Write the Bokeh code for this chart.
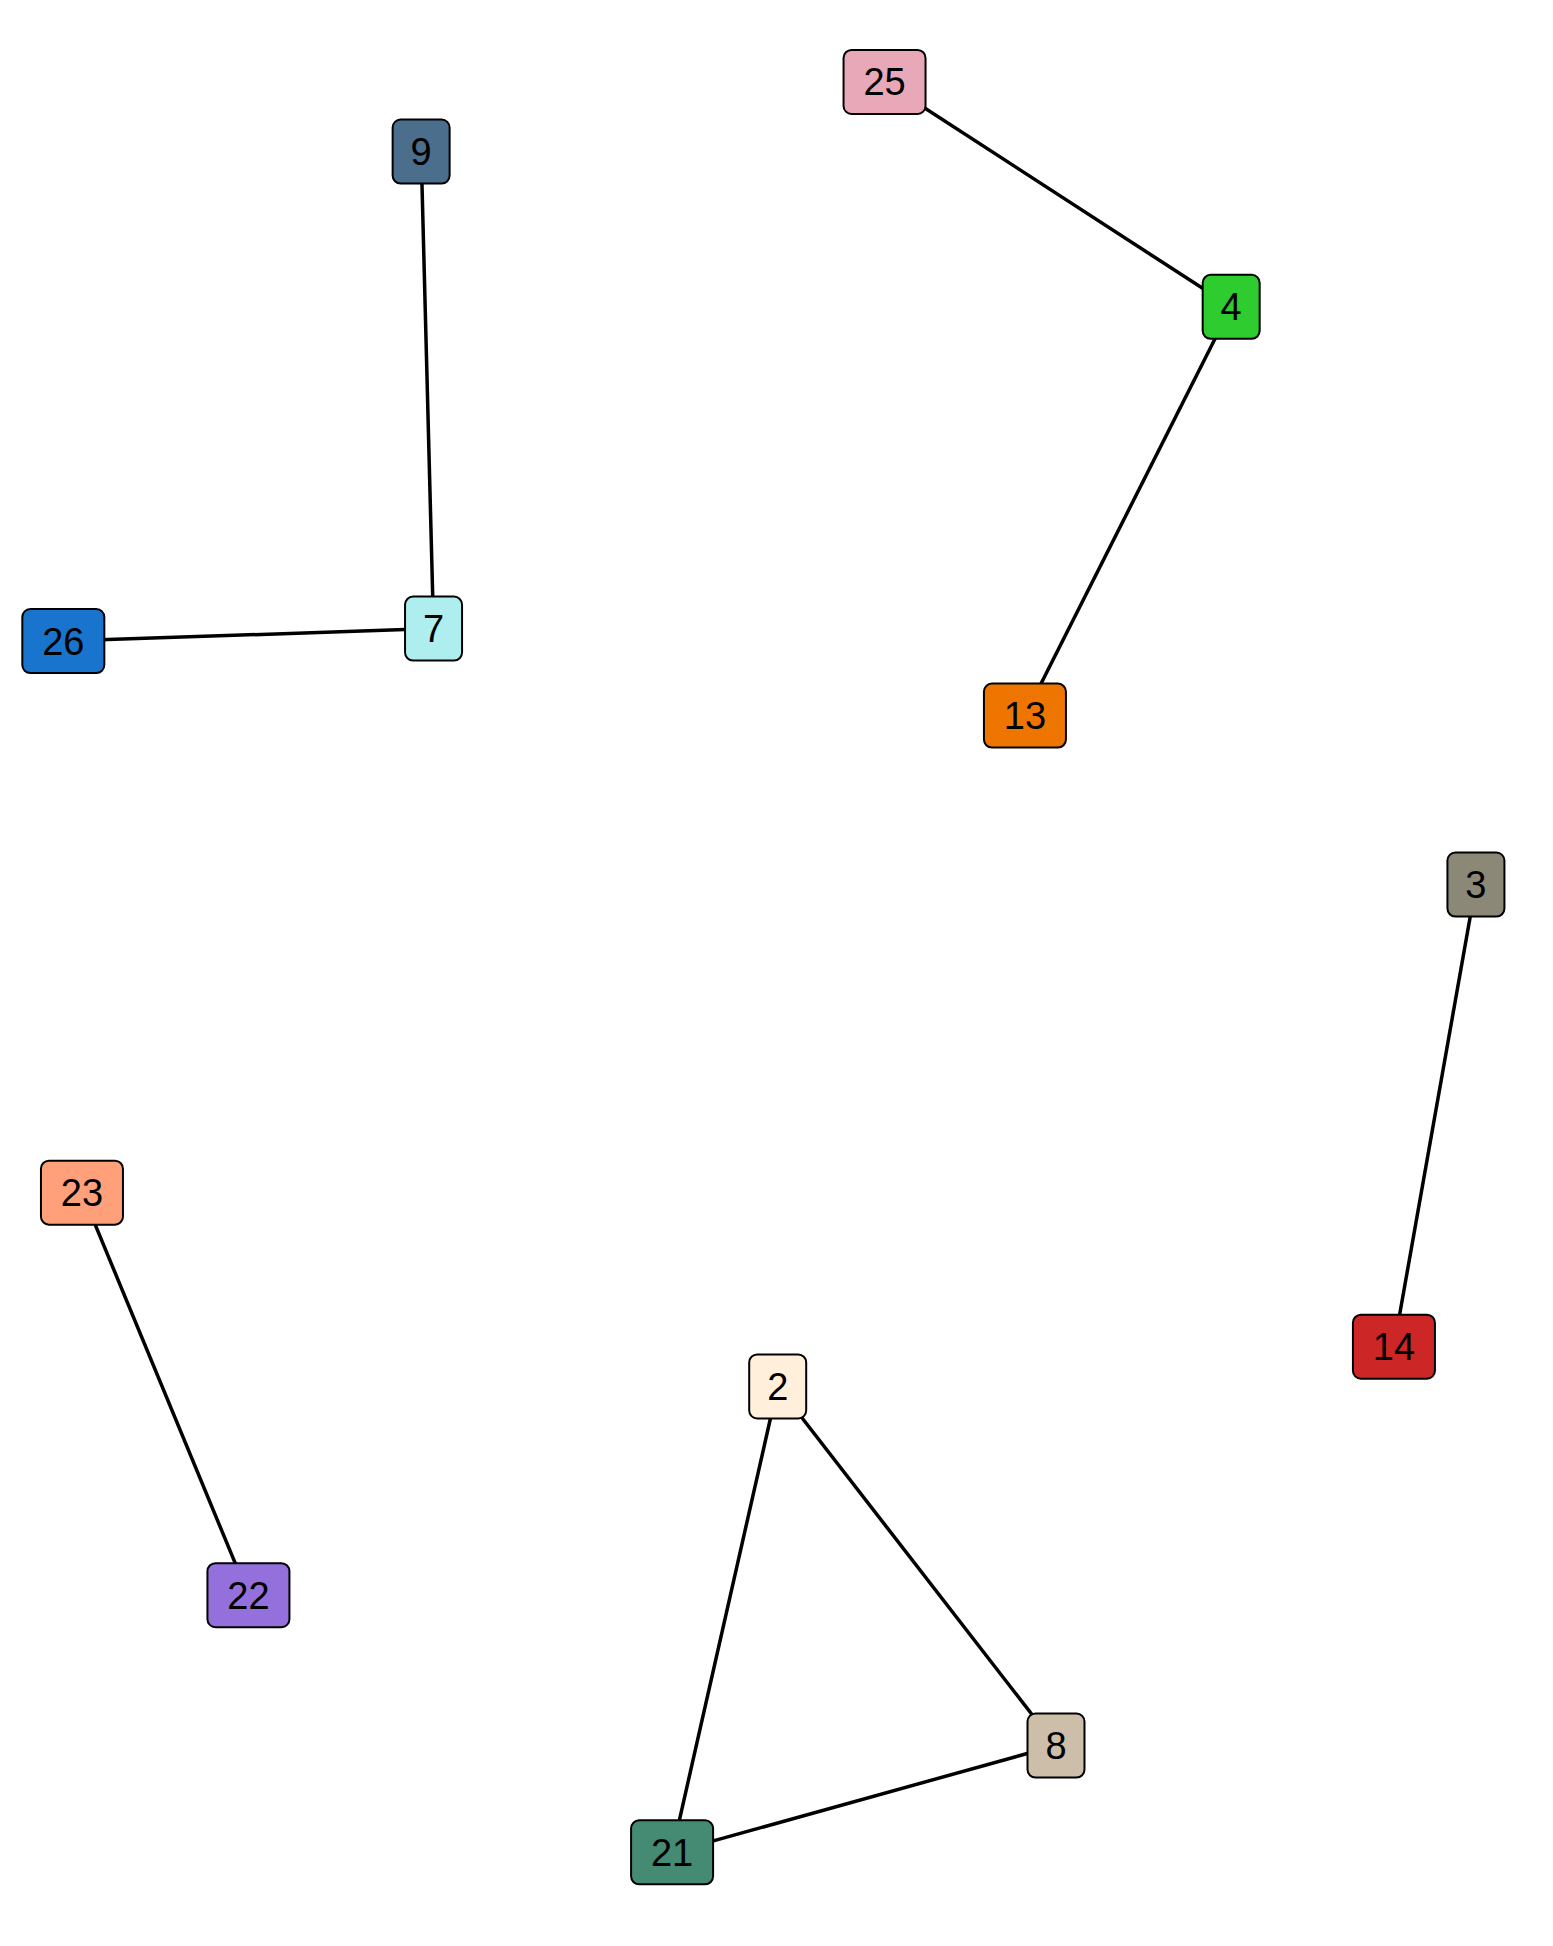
from bokeh.plotting import figure
from bokeh.models import ColumnDataSource
from bokeh.core.properties import value
from bokeh.embed import file_html
from bokeh.resources import INLINE

S = 1.2424
labels = ["25", "9", "4", "7", "26", "13", "3", "23", "14", "2", "22", "8", "21"]
xs = [718, 345, 997, 355, 57, 831, 1194, 72, 1128, 632, 206, 856, 547]
ys = [72, 128, 253, 512, 522, 582, 718, 966, 1090, 1122, 1290, 1411, 1497]
colors = ["#e8a8b8", "#4a6e8c", "#2ecc2e", "#aeeeee", "#1874cd", "#ee7600", "#8b8878",
          "#ffa07a", "#cd2626", "#ffefdb", "#9370db", "#cdbeaa", "#458b74"]
edges = [("25", "4"), ("4", "13"), ("9", "7"), ("7", "26"), ("3", "14"),
         ("23", "22"), ("2", "21"), ("2", "8"), ("8", "21")]

pos = {l: (x * S, y * S) for l, x, y in zip(labels, xs, ys)}

p = figure(width=1537, height=1930, x_range=(8, 1545), y_range=(1938, 8),
           output_backend="svg", toolbar_location=None, min_border=0)
p.axis.visible = False
p.grid.visible = False
p.outline_line_color = None

p.multi_line(xs=[[pos[a][0], pos[b][0]] for a, b in edges],
             ys=[[pos[a][1], pos[b][1]] for a, b in edges],
             line_color="black", line_width=3.5)

w = [57 if len(l) == 1 else 82 for l in labels]
src = ColumnDataSource(dict(
    x=[pos[l][0] for l in labels], y=[pos[l][1] for l in labels], lab=labels, c=colors,
    left=[pos[l][0] - wi / 2 for l, wi in zip(labels, w)],
    right=[pos[l][0] + wi / 2 for l, wi in zip(labels, w)],
    top=[pos[l][1] - 32 for l in labels], bottom=[pos[l][1] + 32 for l in labels]))
p.quad(left="left", right="right", top="top", bottom="bottom", source=src,
       fill_color="c", line_color="black", line_width=2, border_radius=8)
p.text(x="x", y="y", text="lab", source=src, text_align="center", text_baseline="middle",
       text_font=value("Liberation Sans"), text_font_size="38px", text_color="black")

open("out.html", "w").write(file_html(p, INLINE))
